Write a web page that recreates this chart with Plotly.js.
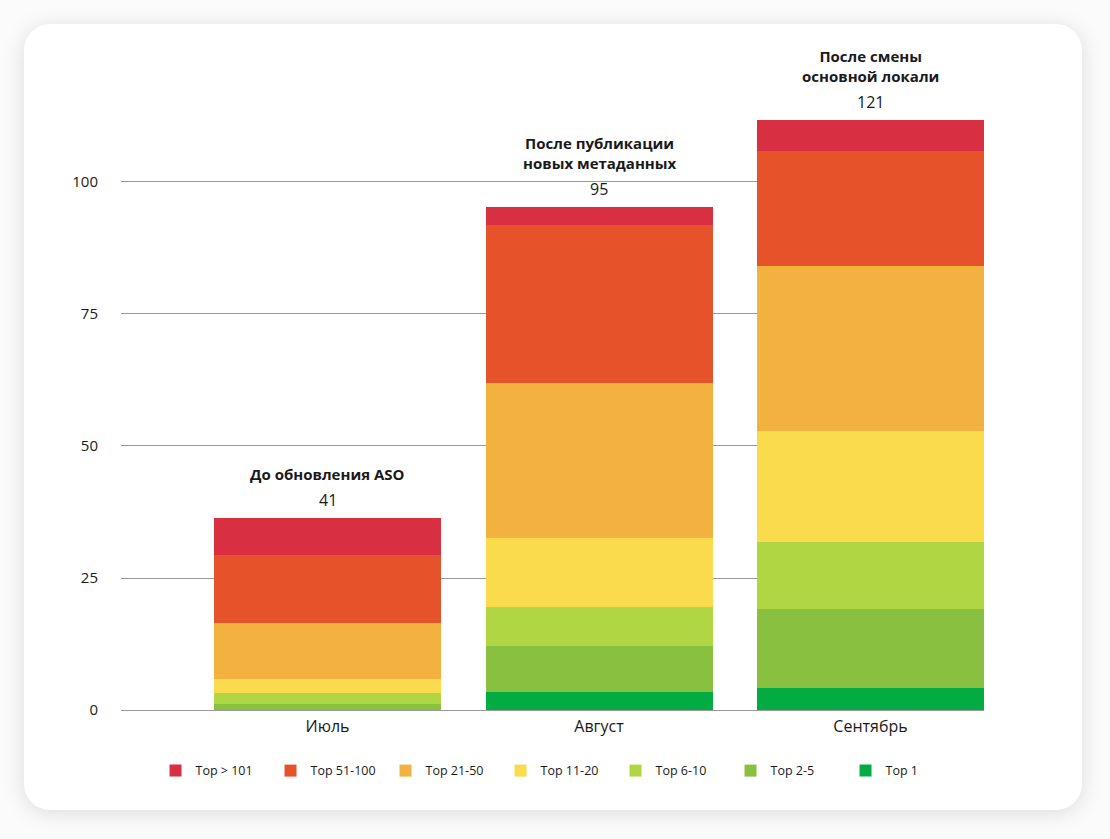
<!DOCTYPE html>
<html>
<head>
<meta charset="utf-8">
<script src="https://cdn.plot.ly/plotly-3.0.1.min.js"></script>
<style>
  html, body { margin: 0; padding: 0; background: #ffffff; }
  #wrap { position: relative; width: 1110px; height: 839px; overflow: hidden; background: #fbfbfb; }
  #card { position: absolute; left: 24px; top: 24px; width: 1058px; height: 786px; background: #ffffff;
          border-radius: 26px; box-shadow: 0 3px 22px rgba(0,0,0,0.13); }
  #chart { position: absolute; left: 0; top: 0; width: 1110px; height: 839px; }
</style>
</head>
<body>
<div id="wrap">
  <div id="card"></div>
  <div id="chart"></div>
</div>
<script>
// ---- data ----
const categories = ['Июль', 'Август', 'Сентябрь'];
const seriesNames = ['Top 1', 'Top 2-5', 'Top 6-10', 'Top 11-20', 'Top 21-50', 'Top 51-100', 'Top > 101'];
const top1      = [0.0, 3.5, 4.1];
const top2to5   = [1.1, 8.7, 15.0];
const top6to10  = [2.1, 7.3, 12.8];
const top11to20 = [2.7, 13.0, 21.0];
const top21to50 = [10.6, 29.4, 31.2];
const top51to100= [12.9, 30.0, 21.8];
const top101    = [7.0, 3.4, 5.9];
const totalLabels = ['41', '95', '121'];
const stageTitles = ['До обновления ASO', 'После публикации<br>новых метаданных', 'После смены<br>основной локали'];
const yTicks = [0, 25, 50, 75, 100];

// ---- styles ----
const colors = ['#02AC43', '#8AC03F', '#B1D644', '#F9DB4B', '#F3B140', '#E6532A', '#D92F42'];
const FONT = 'Open Sans, Inter, sans-serif';

const seriesValues = [top1, top2to5, top6to10, top11to20, top21to50, top51to100, top101];
const traces = seriesValues.map((vals, i) => ({
  type: 'bar',
  name: seriesNames[i],
  x: categories,
  y: vals,
  marker: { color: colors[i], line: { width: 0 } },
  hoverinfo: 'skip'
}));

const totals = categories.map((_, j) => seriesValues.reduce((s, arr) => s + arr[j], 0));

const annotations = [];
categories.forEach((c, j) => {
  annotations.push({
    x: c, y: totals[j], xref: 'x', yref: 'y', yanchor: 'bottom', yshift: 5,
    text: totalLabels[j], showarrow: false,
    font: { family: FONT, size: 16, color: '#1a1a1a' }
  });
  annotations.push({
    x: c, y: totals[j], xref: 'x', yref: 'y', yanchor: 'bottom', yshift: 32,
    text: '<b>' + stageTitles[j] + '</b>', showarrow: false,
    font: { family: FONT, size: 15, color: '#1a1a1a' }
  });
});

const layout = {
  width: 1110, height: 839,
  paper_bgcolor: 'rgba(0,0,0,0)', plot_bgcolor: 'rgba(0,0,0,0)',
  margin: { l: 121, r: 126, t: 40, b: 129 },
  barmode: 'stack',
  bargap: 0.164,
  showlegend: true,
  legend: {
    orientation: 'h', traceorder: 'reversed',
    x: 0.04, xanchor: 'left', y: -0.091, yanchor: 'middle',
    entrywidth: 70, entrywidthmode: 'pixels',
    font: { family: FONT, size: 12.5, color: '#1a1a1a' },
    bgcolor: 'rgba(0,0,0,0)'
  },
  xaxis: {
    type: 'category',
    range: [-0.7606, 2.418],
    showgrid: false, showline: false, zeroline: false, ticks: '',
    ticklabelstandoff: 5,
    tickfont: { family: FONT, size: 16, color: '#1a1a1a' },
    fixedrange: true
  },
  yaxis: {
    range: [0, 126.89],
    tickvals: yTicks,
    showgrid: true, gridcolor: '#9a9a9a', gridwidth: 1,
    zeroline: true, zerolinecolor: '#9a9a9a', zerolinewidth: 1,
    showline: false, ticks: '',
    ticklabelstandoff: 22,
    tickfont: { family: FONT, size: 15, color: '#1a1a1a' },
    fixedrange: true
  },
  annotations: annotations
};

Plotly.newPlot('chart', traces, layout, { displayModeBar: false, staticPlot: true });
</script>
</body>
</html>
